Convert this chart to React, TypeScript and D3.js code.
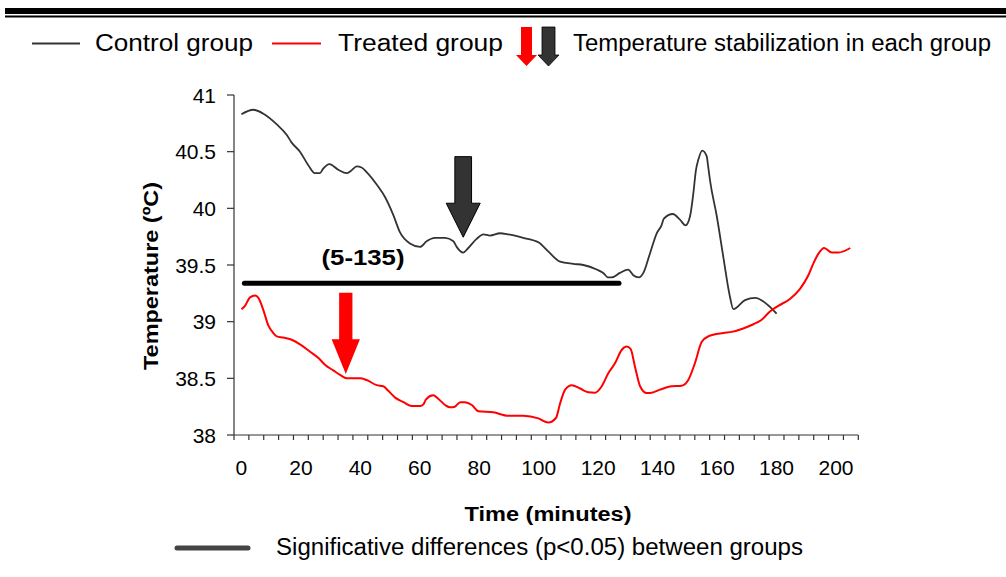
import React from "react";
import * as d3 from "d3";

// ---- data ----
const controlSeries: [number, number][] = [
  [0, 40.83], [4, 40.87], [7.7, 40.83], [11.9, 40.74], [15.2, 40.65], [16.9, 40.58], [19.7, 40.5],
  [22.5, 40.38], [24.7, 40.31], [26.4, 40.31], [27.5, 40.35], [29.6, 40.39], [32.6, 40.34], [35.4, 40.31],
  [36.8, 40.33], [38.8, 40.37], [40.4, 40.36], [42.1, 40.32], [45.5, 40.21], [48.3, 40.1], [51.1, 39.94],
  [53.3, 39.79], [56.7, 39.69], [60.1, 39.66], [62.3, 39.71], [65.1, 39.74], [68.5, 39.74], [71.3, 39.71],
  [72.4, 39.66], [74.6, 39.61], [76.3, 39.65], [79.1, 39.73], [81.4, 39.77], [83.6, 39.76], [87, 39.78],
  [89.8, 39.77], [94.8, 39.74], [99.9, 39.7], [103.2, 39.62], [107.2, 39.53], [111.6, 39.51], [115, 39.5],
  [119.5, 39.46], [121.7, 39.43], [123.4, 39.39], [124.5, 39.39], [127.3, 39.43], [130.1, 39.46],
  [131.8, 39.41], [133.7, 39.39], [135.2, 39.43], [137.4, 39.6], [139.7, 39.78], [141.3, 39.85],
  [142.1, 39.91], [145.1, 39.95], [147.5, 39.9], [149.4, 39.85], [150.9, 39.93], [152, 40.13],
  [152.9, 40.34], [153.7, 40.43], [155, 40.51], [156.5, 40.46], [157, 40.37], [157.6, 40.25],
  [159.9, 39.93], [162.1, 39.57], [164.1, 39.25], [165.5, 39.11], [169.4, 39.19], [172.8, 39.21],
  [177.8, 39.13], [180, 39.07],
];

const treatedSeries: [number, number][] = [
  [0, 39.11], [1.2, 39.14], [2.9, 39.215], [4.6, 39.23], [5.7, 39.21], [7.4, 39.1], [9, 38.97],
  [10.7, 38.9], [11.9, 38.87], [14.1, 38.86], [16.9, 38.84], [19.7, 38.8], [23.1, 38.735], [25.9, 38.68],
  [28.1, 38.62], [30.9, 38.57], [33.2, 38.53], [35.4, 38.5], [39.9, 38.5], [42.1, 38.485], [45.5, 38.44],
  [47.7, 38.43], [49.4, 38.39], [51.7, 38.33], [54.5, 38.29], [57.3, 38.256], [60.1, 38.256],
  [61.2, 38.27], [62.1, 38.315], [64.5, 38.35], [66.2, 38.32], [68.5, 38.265], [70.2, 38.244],
  [71.8, 38.25], [73.6, 38.29], [75.2, 38.29], [77.5, 38.265], [79.7, 38.21], [84.7, 38.2],
  [89.8, 38.17], [94.8, 38.17], [99.9, 38.147], [103.2, 38.11], [105.8, 38.15], [107.2, 38.28],
  [108.9, 38.4], [111.1, 38.44], [113.9, 38.41], [116.7, 38.377], [118.9, 38.373], [121.2, 38.43],
  [123.4, 38.545], [125.6, 38.63], [127.9, 38.75], [129.6, 38.78], [130.9, 38.76], [132.4, 38.6],
  [134.1, 38.43], [136.3, 38.37], [138, 38.373], [140.8, 38.4], [144.7, 38.43], [148.1, 38.435],
  [150.3, 38.485], [152.5, 38.63], [154.8, 38.82], [157, 38.87], [162.1, 38.9], [164.9, 38.91],
  [168.8, 38.94], [172.2, 38.977], [174.9, 39.015], [177.8, 39.09], [180.6, 39.14], [184.5, 39.2],
  [187.9, 39.29], [190.7, 39.41], [192.4, 39.515], [194.1, 39.6], [196, 39.65], [198.6, 39.61],
  [200.8, 39.61], [204.8, 39.65],
];

const xTickLabels = [0, 20, 40, 60, 80, 100, 120, 140, 160, 180, 200];
const yTickLabels = [38, 38.5, 39, 39.5, 40, 40.5, 41];
const categoryCount = 42; // 5-minute categories 0..205
const categoryWidth = 5;

// significance bar: [start time, end time, temperature level]
const sigBar = [1, 127, 39.34];
const sigLabel = "(5-135)";

// stabilization arrows: time, tip temperature, top temperature
const controlArrow = [74.6, 39.745, 40.456];
const treatedArrow = [35.1, 38.538, 39.256];

const legendLabels = ["Control group", "Treated group", "Temperature stabilization in each group"];
const sigLegendLabel = "Significative differences (p<0.05) between groups";
const xTitle = "Time (minutes)";
const yTitle = "Temperature (ºC)";

// ---- layout ----
const W = 1006;
const H = 577;
const FONT = "'Liberation Sans', Arial, sans-serif";
const DARK = "#333333";

const x = d3
  .scaleLinear()
  .domain([-categoryWidth / 2, categoryCount * categoryWidth - categoryWidth / 2])
  .range([234, 858.3]);
const y = d3.scaleLinear().domain([38, 41]).range([435, 95]);

const lineGen = d3
  .line<[number, number]>()
  .x((d) => x(d[0]))
  .y((d) => y(d[1]))
  .curve(d3.curveMonotoneX);

function arrowPath(cx: number, tipY: number, topY: number, shaftW: number, headW: number, headH: number) {
  const hs = shaftW / 2;
  const hh = headW / 2;
  const baseY = tipY - headH;
  return `M${cx - hs},${topY} L${cx + hs},${topY} L${cx + hs},${baseY} L${cx + hh},${baseY} L${cx},${tipY} L${cx - hh},${baseY} L${cx - hs},${baseY} Z`;
}

export default function App() {
  const xTicks = d3.range(categoryCount + 1).map((i) => -categoryWidth / 2 + i * categoryWidth);

  return (
    <svg
      width={W}
      height={H}
      style={{ position: "absolute", left: 0, top: 0, background: "#fff" }}
      fontFamily={FONT}
    >
      <rect x={0} y={0} width={W} height={H} fill="#fff" />
      {/* top rules */}
      <rect x={5} y={8} width={W - 5} height={6} fill="#000" />
      <rect x={5} y={15.5} width={W - 5} height={2} fill="#000" />

      {/* top legend */}
      <line x1={32} x2={80} y1={43.5} y2={43.5} stroke={DARK} strokeWidth={2} />
      <text x={95} y={51} fontSize={23} textLength={158} lengthAdjust="spacingAndGlyphs">
        {legendLabels[0]}
      </text>
      <line x1={272} x2={321} y1={43.5} y2={43.5} stroke="#ff0000" strokeWidth={2} />
      <text x={338} y={51} fontSize={23} textLength={165} lengthAdjust="spacingAndGlyphs">
        {legendLabels[1]}
      </text>
      <path d={arrowPath(526.5, 66, 27, 11, 21, 11)} fill="#ff0000" />
      <path d={arrowPath(548.5, 66, 27, 13, 21, 11)} fill={DARK} stroke="#000" strokeWidth={0.8} />
      <text x={573} y={51} fontSize={23} textLength={418} lengthAdjust="spacingAndGlyphs">
        {legendLabels[2]}
      </text>

      {/* axes */}
      <line x1={234} x2={234} y1={y(41)} y2={y(38)} stroke={DARK} strokeWidth={1.2} />
      {yTickLabels.map((v) => (
        <g key={v}>
          <line x1={227} x2={234} y1={y(v)} y2={y(v)} stroke={DARK} strokeWidth={1.2} />
          <text x={216} y={y(v)} dy="0.36em" textAnchor="end" fontSize={21}>
            {v}
          </text>
        </g>
      ))}
      <line x1={x(xTicks[0])} x2={x(xTicks[xTicks.length - 1])} y1={y(38)} y2={y(38)} stroke={DARK} strokeWidth={1.2} />
      {xTicks.map((t) => (
        <line key={t} x1={x(t)} x2={x(t)} y1={y(38)} y2={y(38) + 5} stroke={DARK} strokeWidth={1.2} />
      ))}
      {xTickLabels.map((t) => (
        <text key={t} x={x(t)} y={475} textAnchor="middle" fontSize={21}>
          {t}
        </text>
      ))}

      {/* axis titles */}
      <text x={548} y={521} textAnchor="middle" fontSize={20} fontWeight="bold" textLength={167} lengthAdjust="spacingAndGlyphs">
        {xTitle}
      </text>
      <text
        transform={`translate(158,276) rotate(-90)`}
        textAnchor="middle"
        fontSize={20}
        fontWeight="bold"
        textLength={188}
        lengthAdjust="spacingAndGlyphs"
      >
        {yTitle}
      </text>

      {/* series */}
      <path d={lineGen(controlSeries) || ""} fill="none" stroke={DARK} strokeWidth={1.8} />
      <path d={lineGen(treatedSeries) || ""} fill="none" stroke="#ff0000" strokeWidth={2} />

      {/* significance bar */}
      <line
        x1={x(sigBar[0])}
        x2={x(sigBar[1])}
        y1={y(sigBar[2])}
        y2={y(sigBar[2])}
        stroke="#000"
        strokeWidth={5}
        strokeLinecap="round"
      />
      <text x={363} y={265} textAnchor="middle" fontSize={22} fontWeight="bold" textLength={83} lengthAdjust="spacingAndGlyphs">
        {sigLabel}
      </text>

      {/* stabilization arrows */}
      <path
        d={arrowPath(x(controlArrow[0]), y(controlArrow[1]), y(controlArrow[2]), 16.7, 34, 34)}
        fill={DARK}
        stroke="#000"
        strokeWidth={1}
      />
      <path
        d={arrowPath(x(treatedArrow[0]), y(treatedArrow[1]), y(treatedArrow[2]), 13.3, 28.3, 34.7)}
        fill="#ff0000"
      />

      {/* bottom legend */}
      <line x1={177} x2={248} y1={548} y2={548} stroke="#444" strokeWidth={5} strokeLinecap="round" />
      <text x={276} y={555} fontSize={23} textLength={527} lengthAdjust="spacingAndGlyphs">
        {sigLegendLabel}
      </text>
    </svg>
  );
}
